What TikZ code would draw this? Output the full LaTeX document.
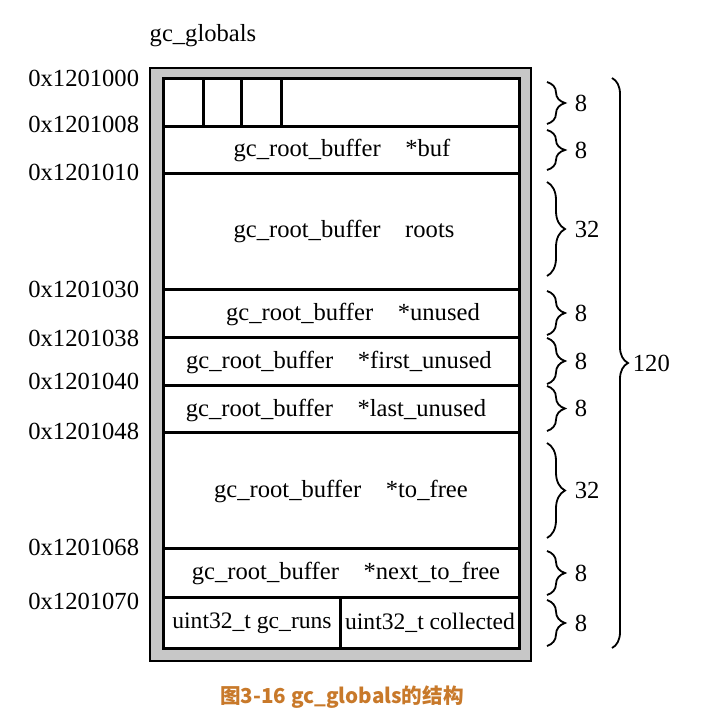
\documentclass[tikz,border=0pt]{standalone}
\usepackage{fontspec}
\setmainfont{Liberation Serif}
\newfontfamily\cjk{Noto Sans CJK SC}
\usepackage{xcolor}
\definecolor{colorCaption}{RGB}{200,121,42}
\colorlet{colorFrame}{black!22}
\usetikzlibrary{decorations.pathreplacing}
\tikzset{
  field/.style={inner sep=0pt, font=\fontsize{12.3}{14}\selectfont},
  narrow/.style={inner sep=0pt, font=\fontsize{11.8}{14}\selectfont},
  addr/.style={field, anchor=west},
  size/.style={field, anchor=west, xshift=13.5pt},
  sbrace/.style={decorate, decoration={brace, amplitude=9pt}, line width=0.9pt},
  bbrace/.style={decorate, decoration={brace, amplitude=8pt}, line width=0.9pt},
  grid/.style={line width=1.5pt}
}

\begin{document}
\begin{tikzpicture}[x=0.5pt, y=-0.5pt]
\useasboundingbox (0,0) rectangle (716,724);
\draw[line width=1pt, fill=colorFrame] (150,68) rectangle (531,661);
\draw[grid, fill=white] (163,78) rectangle (519,648);
\foreach \y in {126,173,289,337,385,432,548,597} \draw[grid] (163,\y) -- (519,\y);
\foreach \x in {203,241,281} \draw[grid] (\x,78) -- (\x,126);
\draw[grid] (340,597) -- (340,648);
\node[field] (title) at (203,36) {gc\_globals};
\node[field] (buf) at (342,150) {gc\_root\_buffer\quad *buf};
\node[field] (roots) at (344,231) {gc\_root\_buffer\quad roots};
\node[field] (unused) at (353,314) {gc\_root\_buffer\quad *unused};
\node[field] (first) at (339,362) {gc\_root\_buffer\quad *first\_unused};
\node[field] (last) at (336,410) {gc\_root\_buffer\quad *last\_unused};
\node[field] (tofree) at (341,491) {gc\_root\_buffer\quad *to\_free};
\node[field] (next) at (346,573) {gc\_root\_buffer\quad *next\_to\_free};
\node[narrow] (runs) at (252,623) {uint32\_t gc\_runs};
\node[narrow] (collected) at (430,623) {uint32\_t collected};
\foreach \a/\y [count=\i] in {0x1201000/78, 0x1201008/124, 0x1201010/172, 0x1201030/289, 0x1201038/338, 0x1201040/381, 0x1201048/431, 0x1201068/547, 0x1201070/601}
  \node[addr] (a\i) at (28,\y) {\a};
\foreach \t/\b/\l [count=\i] in {82/124/8, 130/170/8, 182/276/32, 291/335/8, 338/384/8, 386/431/8, 443/538/32, 551/595/8, 600/646/8}
  \draw[sbrace] (547,\t) -- (547,\b) node[size, midway] (s\i) {\l};
\draw[bbrace] (612,78) -- (612,648) node[field, midway, anchor=west, xshift=10pt] (total) {120};
\node[font=\cjk\bfseries\fontsize{10.3}{12}\selectfont, text=colorCaption] (caption) at (342,697) {图3-16 gc\_globals的结构};
\end{tikzpicture}
\end{document}
